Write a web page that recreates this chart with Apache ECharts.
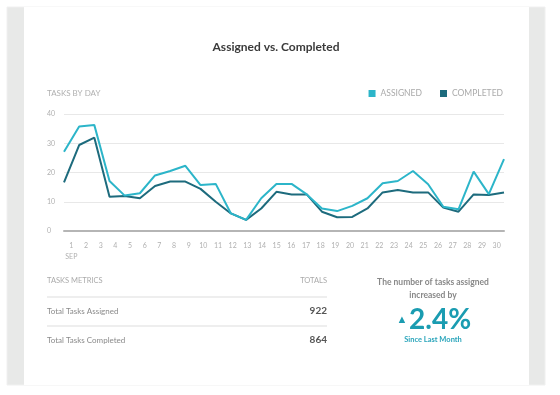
<!DOCTYPE html>
<html>
<head>
<meta charset="utf-8">
<script src="https://cdn.jsdelivr.net/npm/echarts@6/dist/echarts.min.js"></script>
<style>html,body{margin:0;padding:0;background:#fff}#c{width:560px;height:395px}</style>
</head>
<body>
<div id="c"></div>
<script>
const days = ['1','2','3','4','5','6','7','8','9','10','11','12','13','14','15','16','17','18','19','20','21','22','23','24','25','26','27','28','29','30'];
const monthLabel = 'SEP';
const assigned = [27.1,35.7,36.2,17.1,12.1,12.9,19.0,20.5,22.3,15.7,16.1,6.0,3.8,11.2,16.1,16.1,12.5,7.7,6.8,8.6,11.2,16.3,17.1,20.5,16.0,8.3,7.4,20.3,12.6,24.6];
const completed = [16.6,29.4,31.9,11.7,12.0,11.2,15.4,16.9,16.9,14.4,10.0,6.0,3.8,7.7,13.4,12.5,12.5,6.6,4.7,4.8,7.7,13.2,14.0,13.2,13.2,8.0,6.6,12.5,12.3,13.2];
const yTicks = [0,10,20,30,40];
const metricNames = ['Total Tasks Assigned','Total Tasks Completed'];
const metricTotals = [922, 864];
const changePct = '2.4%';

const FONT = 'Lato, "Open Sans", sans-serif';
const cA = '#2cb5c9', cC = '#1d6b7d';
const chart = echarts.init(document.getElementById('c'), null, {renderer:'canvas'});

const graphics = [
  {type:'rect', z:-100, shape:{x:7,y:7,width:538,height:378}, style:{fill:'#e8e9e8', stroke:'#f0f0f0'}},
  {type:'rect', z:-99, shape:{x:24,y:7,width:505,height:378}, style:{fill:'#ffffff'}},
  {type:'text', x:276, y:47, style:{text:'Assigned vs. Completed', font:'bold 12px '+FONT, fill:'#3a3a3a', textAlign:'center', textVerticalAlign:'middle'}},
  {type:'text', x:47, y:93, style:{text:'TASKS BY DAY', font:'8px '+FONT, fill:'#b0b0b0', textAlign:'left', textVerticalAlign:'middle'}},
  {type:'text', x:47, y:281, style:{text:'TASKS METRICS', font:'7.5px '+FONT, fill:'#aaaaaa', textVerticalAlign:'middle'}},
  {type:'text', x:327, y:281, style:{text:'TOTALS', font:'7.5px '+FONT, fill:'#aaaaaa', textAlign:'right', textVerticalAlign:'middle'}},
  {type:'line', shape:{x1:47,y1:297,x2:327,y2:297}, style:{stroke:'#dddddd', lineWidth:1}},
  {type:'line', shape:{x1:47,y1:326,x2:327,y2:326}, style:{stroke:'#dddddd', lineWidth:1}},
  {type:'text', x:433, y:282, style:{text:'The number of tasks assigned', font:'bold 8.5px '+FONT, fill:'#888888', textAlign:'center', textVerticalAlign:'middle'}},
  {type:'text', x:433, y:295, style:{text:'increased by', font:'bold 8.5px '+FONT, fill:'#888888', textAlign:'center', textVerticalAlign:'middle'}},
  {type:'text', x:402, y:319, style:{text:'▲', font:'11px '+FONT, fill:'#1a9cb1', textAlign:'center', textVerticalAlign:'middle'}},
  {type:'text', x:409, y:320, style:{text:changePct, font:'bold 28px '+FONT, fill:'#1a9cb1', textAlign:'left', textVerticalAlign:'middle'}},
  {type:'text', x:433, y:340, style:{text:'Since Last Month', font:'bold 7.5px '+FONT, fill:'#2aa5bb', textAlign:'center', textVerticalAlign:'middle'}}
];
metricNames.forEach((n,i)=>{
  const y = 311 + i*29;
  graphics.push({type:'text', x:47, y:y, style:{text:n, font:'8px '+FONT, fill:'#8a8a8a', textVerticalAlign:'middle'}});
  graphics.push({type:'text', x:327, y:y, style:{text:String(metricTotals[i]), font:'bold 10px '+FONT, fill:'#555555', textAlign:'right', textVerticalAlign:'middle'}});
});

chart.setOption({
  backgroundColor:'#ffffff',
  animation:false,
  textStyle:{fontFamily:FONT},
  graphic: graphics,
  legend:{
    data:['ASSIGNED','COMPLETED'], right:52, top:84, icon:'rect', itemWidth:7, itemHeight:7, itemGap:18,
    textStyle:{color:'#aaaaaa', fontSize:8.5, fontFamily:FONT}
  },
  grid:{left:64, right:56, top:114, bottom:164},
  xAxis:[
    {type:'category', data:days, boundaryGap:false, axisLine:{lineStyle:{color:'#b5b5b5', width:2}}, axisTick:{show:false}, axisLabel:{show:false}},
    {type:'category', data:days, boundaryGap:true, position:'bottom', axisLine:{show:false}, axisTick:{show:false},
     axisLabel:{color:'#b0b0b0', fontSize:7, margin:9, lineHeight:11, interval:0,
       formatter:(v,i)=> i===0 ? v+'\n'+monthLabel : v}}
  ],
  yAxis:{type:'value', min:yTicks[0], max:yTicks[yTicks.length-1], interval:10,
    axisLine:{show:false}, axisTick:{show:false},
    axisLabel:{color:'#b0b0b0', fontSize:7, align:'left', margin:17},
    splitLine:{lineStyle:{color:'#e8e8e8', width:1}}},
  series:[
    {name:'ASSIGNED', type:'line', data:assigned, xAxisIndex:0, showSymbol:false, symbol:'none', lineStyle:{color:cA, width:2}, itemStyle:{color:cA}, z:3},
    {name:'COMPLETED', type:'line', data:completed, xAxisIndex:0, showSymbol:false, symbol:'none', lineStyle:{color:cC, width:2}, itemStyle:{color:cC}, z:2}
  ]
});
</script>
</body>
</html>
